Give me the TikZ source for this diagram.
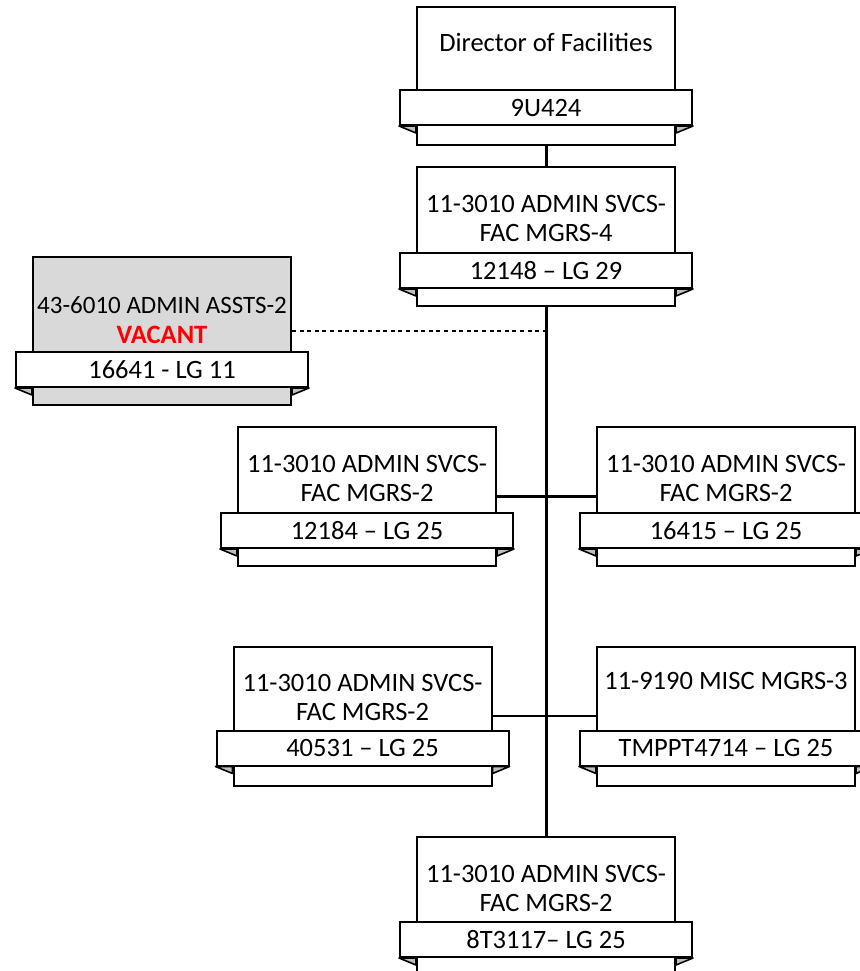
\documentclass[tikz,border=0pt]{standalone}
\usepackage{fontspec}
\setmainfont{Carlito}
\usepackage{xcolor}
\usetikzlibrary{positioning,calc}
\definecolor{cgrisc}{HTML}{D9D9D9}
\definecolor{cpliegue}{HTML}{BFBFBF}
\definecolor{crojo}{HTML}{FF0000}
\tikzset{
  caja/.style={rectangle, draw=black, line width=1pt, fill=white,
    minimum width=129pt, minimum height=69.5pt, inner sep=0pt},
  cajag/.style={caja, fill=cgrisc, minimum height=74pt},
  banda/.style={rectangle, draw=black, line width=1pt, fill=white,
    minimum width=146pt, minimum height=17.5pt, inner sep=0pt,
    font=\fontsize{13.25pt}{14.5pt}\selectfont},
  texto/.style={align=center, inner sep=0pt, font=\fontsize{13.25pt}{14.5pt}\selectfont},
  linea/.style={line width=1.2pt, draw=black},
  tronco/.style={line width=1.5pt, draw=black},
  punteada/.style={line width=1.3pt, draw=black, dash pattern=on 2pt off 1.8pt},
  pliegue/.style={fill=cpliegue, draw=black, line width=0.8pt, line join=round},
}

\begin{document}
\begin{tikzpicture}[x=0.5pt, y=-0.5pt]
  \useasboundingbox (0,0) rectangle (859,971);
  % cajas
  \node[caja, minimum height=69pt] (dir) at (546,76) {};
  \node[caja] (fm4) at (546,236.5) {};
  \node[cajag] (vac) at (162,331) {};
  \node[caja] (fm2a) at (367,496.5) {};
  \node[caja] (fm2b) at (726,496.5) {};
  \node[caja] (fm2c) at (362.5,716) {};
  \node[caja] (misc) at (726,716) {};
  \node[caja] (fm2d) at (546,906.5) {};
  % conectores
  \draw[tronco] (dir.south) -- (fm4.north);
  \draw[tronco] (fm4.south) -- (fm2d.north);
  \draw[linea] (fm2a.east) -- (fm2b.west);
  \draw[linea] (fm2c.east) -- (misc.west);
  \draw[punteada] (vac.east) -- (vac.east -| fm4.south);
  % bandas
  \node[banda, below=41.5pt of dir.north] (dirB) {9U424};
  \node[banda, below=43pt of fm4.north] (fm4B) {12148 -- LG 29};
  \node[banda, below=47.5pt of vac.north] (vacB) {16641 - LG 11};
  \node[banda, below=43pt of fm2a.north] (fm2aB) {12184 -- LG 25};
  \node[banda, below=43pt of fm2b.north] (fm2bB) {16415 -- LG 25};
  \node[banda, below=42pt of fm2c.north] (fm2cB) {40531 -- LG 25};
  \node[banda, below=42pt of misc.north] (miscB) {TMPPT4714 -- LG 25};
  \node[banda, below=42.5pt of fm2d.north] (fm2dB) {8T3117-- LG 25};
  % pliegues
  \foreach \c/\b in {dir/dirB, fm4/fm4B, vac/vacB, fm2a/fm2aB, fm2b/fm2bB, fm2c/fm2cB, misc/miscB, fm2d/fm2dB} {
    \draw[pliegue] (\b.south west) -- ($(\b.south west -| \c.west)+(0,7)$) -- (\b.south west -| \c.west) -- cycle;
    \draw[pliegue] (\b.south east) -- ($(\b.south east -| \c.east)+(0,7)$) -- (\b.south east -| \c.east) -- cycle;
  }
  % textos
  \node[texto] (dirT) at ([yshift=-18pt]dir.north) {Director of Facilities};
  \node[texto] (fm4T) at ([yshift=-26pt]fm4.north) {11-3010 ADMIN SVCS-\\FAC MGRS-4};
  \node[texto, font=\fontsize{12.5pt}{15pt}\selectfont] (vacT) at ([yshift=-32pt]vac.north)
    {43-6010 ADMIN ASSTS-2\\\fontsize{13.25pt}{15pt}\selectfont\textcolor{crojo}{\textbf{VACANT}}};
  \node[texto] (fm2aT) at ([yshift=-26pt]fm2a.north) {11-3010 ADMIN SVCS-\\FAC MGRS-2};
  \node[texto] (fm2bT) at ([yshift=-26pt]fm2b.north) {11-3010 ADMIN SVCS-\\FAC MGRS-2};
  \node[texto] (fm2cT) at ([yshift=-26pt]fm2c.north) {11-3010 ADMIN SVCS-\\FAC MGRS-2};
  \node[texto] (miscT) at ([yshift=-17.5pt]misc.north) {11-9190 MISC MGRS-3};
  \node[texto] (fm2dT) at ([yshift=-26pt]fm2d.north) {11-3010 ADMIN SVCS-\\FAC MGRS-2};
\end{tikzpicture}
\end{document}
